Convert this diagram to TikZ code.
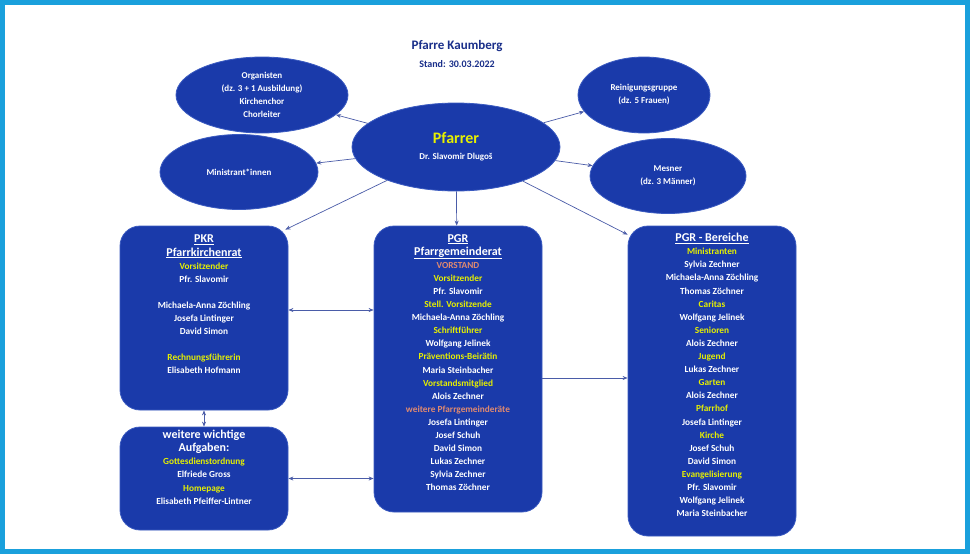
\documentclass[tikz,border=0pt]{standalone}
\usepackage{fontspec}
\setmainfont{Carlito}
\usetikzlibrary{shapes.geometric,arrows.meta}
\definecolor{fr}{HTML}{1AA0DC}
\definecolor{bx}{HTML}{1A3AAA}
\definecolor{bd}{HTML}{3A5AC0}
\definecolor{yl}{HTML}{E6F000}
\definecolor{sal}{HTML}{E08A70}
\definecolor{ln}{HTML}{4A5CA8}
\definecolor{tt}{HTML}{1A2F8A}
\newcommand{\yy}[1]{\textcolor{yl}{#1}}
\newcommand{\salm}[1]{\textcolor{sal}{#1}}
\newcommand{\hd}[1]{{\fontsize{12}{15}\selectfont\underline{#1}}}
\tikzset{
 ell/.style={ellipse,fill=bx,draw=bd,line width=0.8pt,text=white,font=\fontsize{9}{13}\selectfont\bfseries,align=center,inner sep=0pt},
 box/.style={rectangle,rounded corners=20pt,fill=bx,draw=bd,line width=0.8pt,inner sep=0pt},
 txt/.style={text=white,font=\fontsize{9.3}{13.1}\selectfont\bfseries,align=center,anchor=north,inner sep=0pt},
 ar/.style={draw=ln,line width=0.7pt,-{Stealth[length=5pt,width=4pt]}},
 dar/.style={draw=ln,line width=0.7pt,{Stealth[length=5pt,width=4pt]}-{Stealth[length=5pt,width=4pt]}}
}
\begin{document}
\begin{tikzpicture}[x=1pt,y=-1pt]
\fill[white] (0,0) rectangle (970,554);
\draw[fr,line width=5pt] (2.5,2.5) rectangle (967.5,551.5);
\node[text=tt,font=\fontsize{13}{15}\selectfont\bfseries] (title) at (457,46) {Pfarre Kaumberg};
\node[text=tt,font=\fontsize{10}{12}\selectfont\bfseries] (stand) at (457,64) {Stand: 30.03.2022};
\node[ell,minimum width=172,minimum height=76] (org) at (262,95) {Organisten\\(dz. 3 + 1 Ausbildung)\\Kirchenchor\\Chorleiter};
\node[ell,minimum width=158,minimum height=75] (min) at (239,172) {Ministrant*innen};
\node[ell,minimum width=132,minimum height=76] (rei) at (644,95) {Reinigungsgruppe\\(dz. 5 Frauen)};
\node[ell,minimum width=156,minimum height=75] (mes) at (668,176) {Mesner\\(dz. 3 Männer)};
\node[ell,minimum width=208,minimum height=88] (pf) at (456,147) {{\fontsize{16}{18}\selectfont\textcolor{yl}{Pfarrer}}\\[3pt]Dr. Slavomir Dlugoš};
\node[box,minimum width=168,minimum height=184] (pkr) at (204,318) {};
\node[box,minimum width=168,minimum height=103] (wei) at (204,478.5) {};
\node[box,minimum width=168,minimum height=286] (pgr) at (458,369) {};
\node[box,minimum width=168,minimum height=310] (ber) at (712,381) {};
\node[txt] (pkrt) at (204,235) {\hd{PKR}\\\hd{Pfarrkirchenrat}\\\yy{Vorsitzender}\\Pfr. Slavomir\\[13.1pt]Michaela-Anna Zöchling\\Josefa Lintinger\\David Simon\\[13.1pt]\yy{Rechnungsführerin}\\Elisabeth Hofmann};
\node[txt] (weit) at (204,430) {{\fontsize{12}{16}\selectfont weitere wichtige}\\{\fontsize{12}{15}\selectfont Aufgaben:}\\\yy{Gottesdienstordnung}\\Elfriede Gross\\\yy{Homepage}\\Elisabeth Pfeiffer-Lintner};
\node[txt] (pgrt) at (458,234) {\hd{PGR}\\\hd{Pfarrgemeinderat}\\\salm{VORSTAND}\\\yy{Vorsitzender}\\Pfr. Slavomir\\\yy{Stell. Vorsitzende}\\Michaela-Anna Zöchling\\\yy{Schriftführer}\\Wolfgang Jelinek\\\yy{Präventions-Beirätin}\\Maria Steinbacher\\\yy{Vorstandsmitglied}\\Alois Zechner\\\salm{weitere Pfarrgemeinderäte}\\Josefa Lintinger\\Josef Schuh\\David Simon\\Lukas Zechner\\Sylvia Zechner\\Thomas Zöchner};
\node[txt] (bert) at (712,233) {\hd{PGR - Bereiche}\\\yy{Ministranten}\\Sylvia Zechner\\Michaela-Anna Zöchling\\Thomas Zöchner\\\yy{Caritas}\\Wolfgang Jelinek\\\yy{Senioren}\\Alois Zechner\\\yy{Jugend}\\Lukas Zechner\\\yy{Garten}\\Alois Zechner\\\yy{Pfarrhof}\\Josefa Lintinger\\\yy{Kirche}\\Josef Schuh\\David Simon\\\yy{Evangelisierung}\\Pfr. Slavomir\\Wolfgang Jelinek\\Maria Steinbacher};
\draw[ar] (pf) -- (org);
\draw[ar] (pf) -- (min);
\draw[ar] (pf) -- (rei);
\draw[ar] (pf) -- (mes);
\draw[ar] (pf) -- (pgr);
\draw[ar] (pf) -- ([xshift=-3pt,yshift=-4pt]pkr.north east);
\draw[ar] (pf) -- ([yshift=-9pt]ber.north west);
\draw[dar] ([yshift=8pt]pkr.east) -- ([yshift=8pt]pkr.east -| pgr.west);
\draw[dar] (wei.east) -- (wei.east -| pgr.west);
\draw[ar] ([yshift=-9pt]pgr.east) -- ([yshift=-9pt]pgr.east -| ber.west);
\draw[dar] (pkr.south) -- (wei.north);
\end{tikzpicture}
\end{document}
